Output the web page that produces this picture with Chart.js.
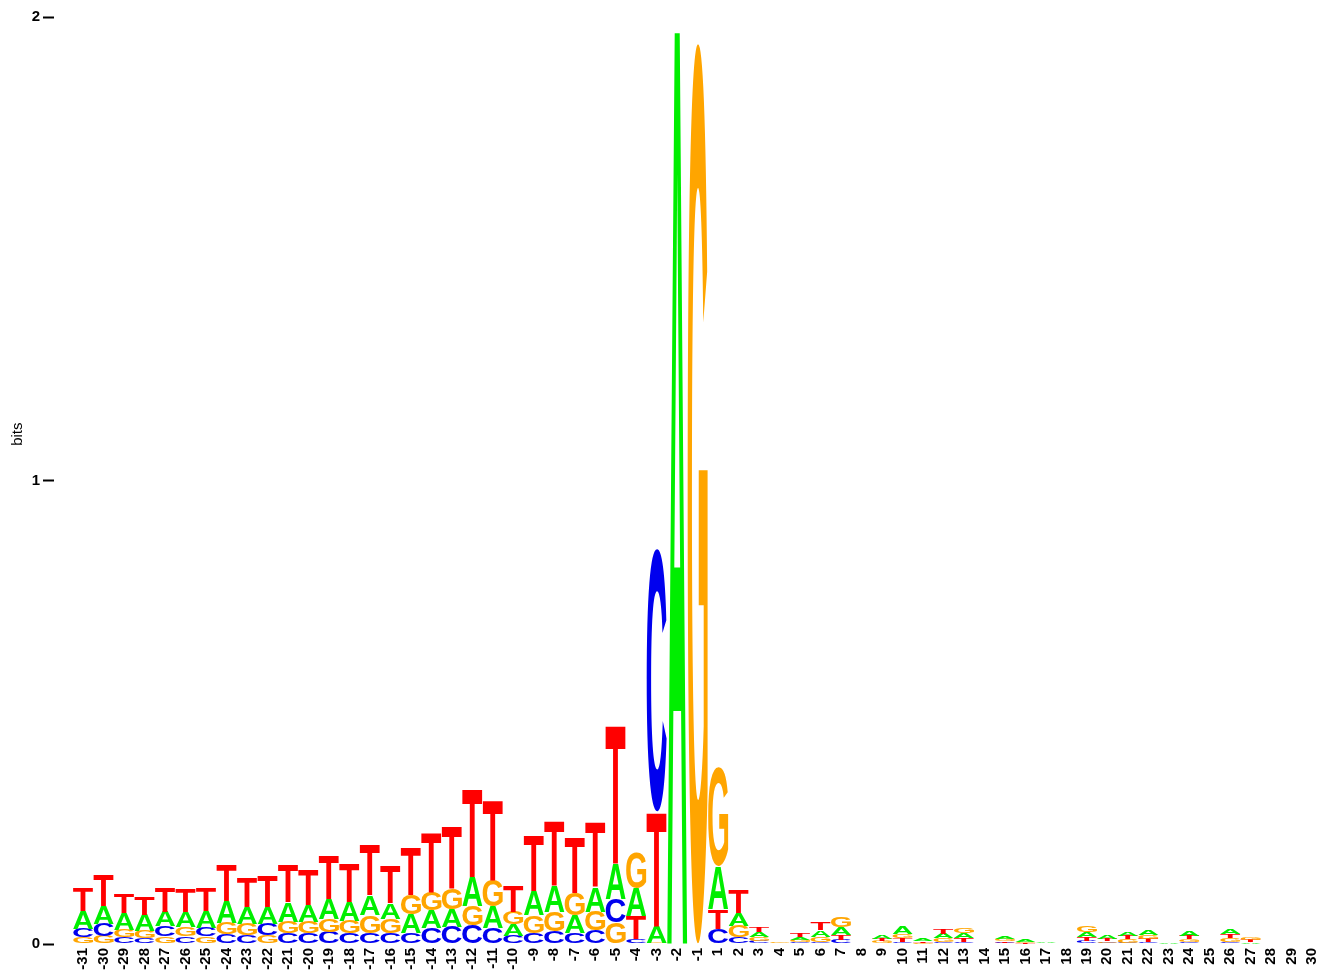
<!DOCTYPE html>
<html>
<head>
<meta charset="utf-8">
<script src="https://cdn.jsdelivr.net/npm/chart.js@4"></script>
<style>
  body { margin: 0; background: #fff; }
  #wrap { width: 1343px; height: 974px; }
</style>
</head>
<body>
<div id="wrap"><canvas id="logo"></canvas></div>
<script>
// Positions along the site (no zero)
const positions = [-31, -30, -29, -28, -27, -26, -25, -24, -23, -22, -21, -20, -19, -18, -17, -16,
  -15, -14, -13, -12, -11, -10, -9, -8, -7, -6, -5, -4, -3, -2, -1,
  1, 2, 3, 4, 5, 6, 7, 8, 9, 10, 11, 12, 13, 14, 15, 16, 17, 18, 19, 20,
  21, 22, 23, 24, 25, 26, 27, 28, 29, 30];

// Letter heights in bits, one value per position
const hA = [0.038, 0.039, 0.035, 0.035, 0.032, 0.032, 0.036, 0.047, 0.037, 0.037, 0.043, 0.037, 0.045, 0.041, 0.043, 0.033,
  0.041, 0.039, 0.038, 0.063, 0.048, 0.026, 0.052, 0.055, 0.039, 0.054, 0.075, 0.060, 0.036, 1.999, 0,
  0.092, 0.029, 0.011, 0.001, 0.006, 0.015, 0.016, 0.001, 0.008, 0.016, 0.004, 0.0103, 0.010, 0.0005, 0.0055, 0.0065, 0.0012, 0.0004, 0.011, 0.0086,
  0.0086, 0.0115, 0.0012, 0.010, 0.0006, 0.010, 0.0026, 0.0007, 0.0007, 0.0007];
const hC = [0.019, 0.027, 0.014, 0.012, 0.022, 0.016, 0.019, 0.022, 0.019, 0.024, 0.023, 0.023, 0.026, 0.023, 0.024, 0.023,
  0.023, 0.034, 0.037, 0.040, 0.034, 0.017, 0.024, 0.027, 0.023, 0.029, 0.052, 0.010, 0.567, 0, 0,
  0.032, 0.014, 0.006, 0.0005, 0.004, 0.005, 0.009, 0.0003, 0.0015, 0.005, 0.001, 0.005, 0.005, 0.0003, 0.003, 0.001, 0.0003, 0.0003, 0.0065, 0.0026,
  0.003, 0.0037, 0.0002, 0.0037, 0.0003, 0.005, 0.001, 0.0003, 0.0003, 0.0003];
const hG = [0.014, 0.017, 0.017, 0.016, 0.016, 0.020, 0.016, 0.024, 0.024, 0.019, 0.025, 0.024, 0.027, 0.027, 0.038, 0.032,
  0.042, 0.040, 0.045, 0.041, 0.056, 0.027, 0.038, 0.043, 0.048, 0.041, 0.046, 0.076, 0.003, 0, 1.946,
  0.213, 0.024, 0.009, 0.0015, 0.005, 0.011, 0.022, 0.0007, 0.004, 0.009, 0.002, 0.007, 0.0105, 0.0006, 0.004, 0.0026, 0.0005, 0.0005, 0.0145, 0.003,
  0.007, 0.0086, 0.0004, 0.0065, 0.0008, 0.007, 0.0058, 0.0005, 0.0005, 0.0005];
const hT = [0.050, 0.068, 0.042, 0.038, 0.052, 0.049, 0.049, 0.077, 0.065, 0.066, 0.081, 0.074, 0.096, 0.083, 0.108, 0.080,
  0.104, 0.129, 0.133, 0.190, 0.174, 0.055, 0.120, 0.139, 0.121, 0.140, 0.300, 0.050, 0.247, 0, 0,
  0.043, 0.050, 0.012, 0.0005, 0.009, 0.016, 0.011, 0.0005, 0.006, 0.0085, 0.0024, 0.011, 0.009, 0.0008, 0.0038, 0.0017, 0.0004, 0.0008, 0.008, 0.0058,
  0.008, 0.008, 0.0003, 0.008, 0.0004, 0.0093, 0.005, 0.0004, 0.0004, 0.0004];

const yTicks = [0, 1, 2];

const letterColors = { A: '#00EE00', C: '#0000EE', G: '#FFA500', T: '#FF0000' };
const heights = { A: hA, C: hC, G: hG, T: hT };
const fontFamily = '"Liberation Sans", Arial, sans-serif';

// Sort letters at each position: smallest at the bottom, largest on top
const ranks = [[], [], [], []];
positions.forEach((p, i) => {
  const sorted = Object.keys(heights)
    .map(l => ({ l, v: heights[l][i] }))
    .sort((a, b) => a.v - b.v);
  sorted.forEach((s, r) => ranks[r].push(s));
});

const datasets = ranks.map(r => ({
  data: r.map((s, i) => ({ x: i, y: s.v })),
  letters: r.map(s => s.l),
  backgroundColor: 'rgba(0,0,0,0)',
  borderWidth: 0,
  barPercentage: 1,
  categoryPercentage: 0.98
}));

// Draw each letter stretched into its bar rectangle
const logoLetters = {
  id: 'logoLetters',
  afterDatasetsDraw(chart) {
    const ctx = chart.ctx;
    ctx.save();
    ctx.font = 'bold 100px ' + fontFamily;
    ctx.textAlign = 'left';
    ctx.textBaseline = 'alphabetic';
    chart.data.datasets.forEach((ds, d) => {
      chart.getDatasetMeta(d).data.forEach((bar, i) => {
        const { x, y, base, width } = bar.getProps(['x', 'y', 'base', 'width'], true);
        const h = base - y;
        if (!(h > 0)) return;
        const letter = ds.letters[i];
        const m = ctx.measureText(letter);
        const gw = m.actualBoundingBoxLeft + m.actualBoundingBoxRight;
        const gh = m.actualBoundingBoxAscent + m.actualBoundingBoxDescent;
        ctx.save();
        ctx.translate(x - width / 2, y);
        ctx.scale(width / gw, h / gh);
        ctx.fillStyle = letterColors[letter];
        ctx.fillText(letter, m.actualBoundingBoxLeft, m.actualBoundingBoxAscent);
        ctx.restore();
      });
    });
    ctx.restore();
  }
};

// y axis title, placed a little above the middle as in the original
const bitsTitle = {
  id: 'bitsTitle',
  afterDraw(chart) {
    const ctx = chart.ctx;
    const y = chart.scales.y.getPixelForValue(1.1);
    ctx.save();
    ctx.translate(18, y);
    ctx.rotate(-Math.PI / 2);
    ctx.font = '15px ' + fontFamily;
    ctx.fillStyle = '#000';
    ctx.textAlign = 'center';
    ctx.textBaseline = 'middle';
    ctx.fillText('bits', 0, 0);
    ctx.restore();
  }
};

new Chart(document.getElementById('logo'), {
  type: 'bar',
  data: { datasets },
  plugins: [logoLetters, bitsTitle],
  options: {
    responsive: true,
    maintainAspectRatio: false,
    animation: false,
    layout: { padding: { top: 17, right: 10, left: 0, bottom: 0 } },
    plugins: { legend: { display: false }, tooltip: { enabled: false } },
    scales: {
      x: {
        type: 'linear',
        stacked: true,
        min: -0.912,
        max: 60.504,
        afterBuildTicks: s => { s.ticks = positions.map((p, i) => ({ value: i })); },
        afterFit: s => { s.height = 30; },
        grid: { display: false, drawTicks: false },
        border: { display: false },
        ticks: {
          autoSkip: false,
          minRotation: 90,
          maxRotation: 90,
          padding: 4,
          color: '#000',
          font: { family: fontFamily, size: 15, weight: 'bold' },
          callback: v => String(positions[v])
        }
      },
      y: {
        stacked: true,
        min: 0,
        max: 2,
        afterBuildTicks: s => { s.ticks = yTicks.map(v => ({ value: v })); },
        afterFit: s => { s.width = 54; },
        grid: { drawOnChartArea: false, drawTicks: true, tickLength: 11, tickColor: '#000', tickWidth: 2 },
        border: { display: false },
        ticks: {
          padding: 3,
          color: '#000',
          font: { family: fontFamily, size: 15, weight: 'bold' }
        }
      }
    }
  }
});
</script>
</body>
</html>
